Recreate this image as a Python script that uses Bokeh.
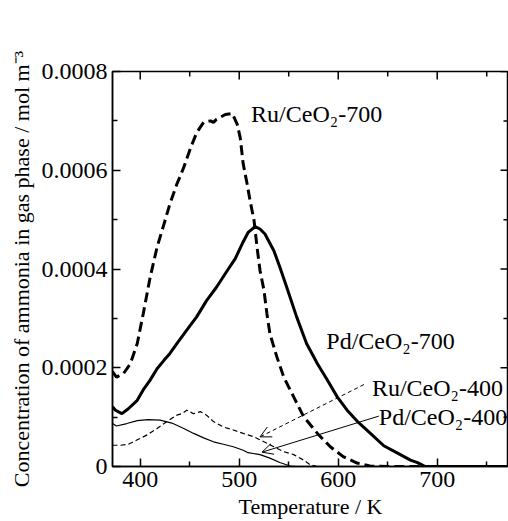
from bokeh.plotting import figure
from bokeh.models import Range1d, FixedTicker, Arrow, OpenHead, ColumnDataSource
from bokeh.core.properties import value
from bokeh.embed import file_html
from bokeh.resources import INLINE

# ---- data (temperature in K, concentration in mol m^-3) ----
ru700_T = [372, 376, 383, 390, 397, 403, 410, 417, 424, 430, 437, 440, 444, 451, 457, 464, 471, 474,
           477, 486, 493, 498, 501, 504, 508, 511, 515, 518, 521, 525, 528, 531, 538, 545, 555, 565,
           579, 592, 605, 619, 632, 650, 700, 772]
ru700_c = [1.92, 1.81, 1.88, 2.08, 2.49, 3.09, 3.83, 4.44, 4.91, 5.32, 5.72, 5.86, 6.06, 6.46, 6.76,
           6.97, 7.00, 6.97, 7.03, 7.13, 7.15, 6.93, 6.66, 6.13, 5.72, 5.38, 4.98, 4.44, 3.97, 3.57,
           3.09, 2.69, 2.22, 1.81, 1.41, 1.01, 0.67, 0.40, 0.20, 0.07, 0.01, 0.0, 0.0, 0.0]

pd700_T = [372, 375, 381.5, 388, 397, 403, 410, 417, 424, 430, 437, 447, 457, 467, 477, 488, 496,
           503, 509, 516, 521, 526, 535, 541, 548, 558, 568, 579, 589, 599, 609, 619, 632, 646, 659,
           673, 680, 688, 700, 772]
pd700_c = [1.21, 1.14, 1.07, 1.17, 1.34, 1.55, 1.75, 1.98, 2.15, 2.29, 2.49, 2.76, 3.03, 3.36, 3.63,
           3.97, 4.21, 4.51, 4.74, 4.86, 4.81, 4.71, 4.37, 4.04, 3.63, 3.03, 2.49, 2.08, 1.75, 1.41,
           1.14, 0.92, 0.68, 0.42, 0.28, 0.13, 0.08, 0.0, 0.0, 0.0]

ru400_T = [372, 380, 388, 397, 407, 417, 427, 437, 442, 447, 454, 461, 467, 474, 484, 494, 504, 515,
           525, 535, 545, 555, 565, 572, 579, 600, 772]
ru400_c = [0.43, 0.43, 0.45, 0.54, 0.64, 0.77, 0.91, 1.04, 1.07, 1.14, 1.07, 1.11, 1.04, 0.91, 0.80,
           0.74, 0.67, 0.60, 0.50, 0.40, 0.30, 0.24, 0.13, 0.03, 0.0, 0.0, 0.0]

pd400_T = [372, 376, 386.5, 397, 408, 420, 432, 444, 454, 464, 474, 484, 494, 504, 509, 521, 531,
           541, 551.5, 558, 772]
pd400_c = [0.87, 0.82, 0.87, 0.93, 0.95, 0.94, 0.88, 0.77, 0.67, 0.58, 0.50, 0.45, 0.40, 0.33, 0.28,
           0.24, 0.17, 0.08, 0.01, 0.0, 0.0]

SCALE = 1e-4  # values above are read in units of 1e-4 mol m^-3

X_MIN, X_MAX = 372, 772
Y_MIN, Y_MAX = 0, 0.0008
x_ticks = [400, 500, 600, 700]
x_minor = [450, 550, 650, 750]
y_ticks = [0, 0.0002, 0.0004, 0.0006, 0.0008]
y_minor = [0.0001, 0.0003, 0.0005, 0.0007]
y_tick_labels = ["0", "0.0002", "0.0004", "0.0006", "0.0008"]

x_title = "Temperature / K"
y_title = "Concentration of ammonia in gas phase / mol m\u207b\u00b3"

label_texts = ["Ru/CeO\u2082-700", "Pd/CeO\u2082-700", "Ru/CeO\u2082-400", "Pd/CeO\u2082-400"]
label_T = [512, 588, 634, 641]
label_c = [7.13, 2.55, 1.58, 1.00]

arrow_start_T = [626, 641]
arrow_start_c = [1.66, 1.02]
arrow_end_T = [521, 523]
arrow_end_c = [0.60, 0.29]
arrow_dash = ["4 3", "solid"]

FONT = "Liberation Serif"
TICK_FS = "24px"
AXIS_FS = "22px"
NOTE_FS = "24px"

FRAME_W, FRAME_H = 396, 395          # frame size in px (508-112, 521-71-55)
MAJOR_LEN, MINOR_LEN = 8, 5          # inward tick lengths in px

p = figure(width=508, height=521, x_range=Range1d(X_MIN, X_MAX), y_range=Range1d(Y_MIN, Y_MAX),
           output_backend="svg", toolbar_location=None,
           min_border_left=112, min_border_right=0, min_border_top=71, min_border_bottom=55,
           background_fill_color="white", border_fill_color="white")
p.grid.visible = False
p.outline_line_color = "black"
p.outline_line_width = 1.5

def style_axis(ax, ticks, minor):
    ax.ticker = FixedTicker(ticks=ticks, minor_ticks=minor)
    ax.major_tick_in = MAJOR_LEN
    ax.major_tick_out = 0
    ax.minor_tick_in = MINOR_LEN
    ax.minor_tick_out = 0
    ax.axis_line_color = "black"
    ax.axis_line_width = 1.5
    ax.major_tick_line_width = 1.5
    ax.minor_tick_line_width = 1.5
    ax.major_label_text_font = FONT
    ax.major_label_text_font_size = TICK_FS
    ax.major_label_text_color = "black"
    ax.axis_label_text_font = FONT
    ax.axis_label_text_font_size = AXIS_FS
    ax.axis_label_text_font_style = "normal"
    ax.axis_label_text_color = "black"

xa = p.xaxis[0]
style_axis(xa, x_ticks, x_minor)
xa.axis_label = x_title
xa.major_label_standoff = 5
xa.axis_label_standoff = 4

ya = p.yaxis[0]
style_axis(ya, y_ticks, y_minor)
ya.axis_label = y_title
ya.major_label_overrides = {t: s for t, s in zip(y_ticks, y_tick_labels)}
ya.major_label_standoff = 5
ya.axis_label_standoff = 5

# inward tick marks on the top and right frame edges
dy_major = (Y_MAX - Y_MIN) / FRAME_H * MAJOR_LEN
dy_minor = (Y_MAX - Y_MIN) / FRAME_H * MINOR_LEN
dx_major = (X_MAX - X_MIN) / FRAME_W * MAJOR_LEN
dx_minor = (X_MAX - X_MIN) / FRAME_W * MINOR_LEN
p.segment(x0=x_ticks, y0=[Y_MAX] * len(x_ticks), x1=x_ticks, y1=[Y_MAX - dy_major] * len(x_ticks),
          line_color="black", line_width=1.5)
p.segment(x0=x_minor, y0=[Y_MAX] * len(x_minor), x1=x_minor, y1=[Y_MAX - dy_minor] * len(x_minor),
          line_color="black", line_width=1.5)
p.segment(x0=[X_MAX] * len(y_ticks), y0=y_ticks, x1=[X_MAX - dx_major] * len(y_ticks), y1=y_ticks,
          line_color="black", line_width=1.5)
p.segment(x0=[X_MAX] * len(y_minor), y0=y_minor, x1=[X_MAX - dx_minor] * len(y_minor), y1=y_minor,
          line_color="black", line_width=1.5)

p.line(ru700_T, [c * SCALE for c in ru700_c], line_color="black", line_width=3, line_dash="10 5")
p.line(pd700_T, [c * SCALE for c in pd700_c], line_color="black", line_width=3)
p.line(ru400_T, [c * SCALE for c in ru400_c], line_color="black", line_width=1.2, line_dash="5 3")
p.line(pd400_T, [c * SCALE for c in pd400_c], line_color="black", line_width=1.2)

src = ColumnDataSource(dict(x=label_T, y=[c * SCALE for c in label_c], text=label_texts))
p.text(x="x", y="y", text="text", source=src, text_font=value(FONT), text_font_size=NOTE_FS,
       text_align="left", text_baseline="middle", text_color="black")

for xs, ys, xe, ye, d in zip(arrow_start_T, arrow_start_c, arrow_end_T, arrow_end_c, arrow_dash):
    p.add_layout(Arrow(end=OpenHead(size=11, line_width=1, line_color="black"),
                       x_start=xs, y_start=ys * SCALE, x_end=xe, y_end=ye * SCALE,
                       line_color="black", line_width=1, line_dash=d))

open("out.html", "w").write(file_html(p, INLINE))
